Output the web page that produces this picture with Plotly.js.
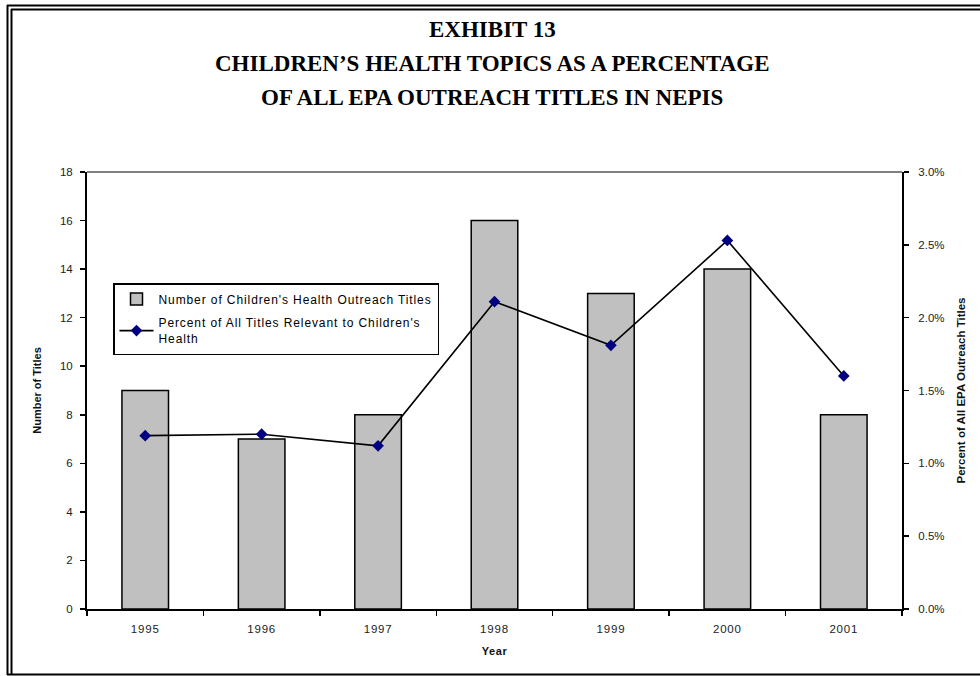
<!DOCTYPE html>
<html>
<head>
<meta charset="utf-8">
<script src="https://cdn.plot.ly/plotly-3.0.1.min.js"></script>
<style>
html,body{margin:0;padding:0;background:#fff;}
#chart{width:980px;height:676px;}
.legendtext{letter-spacing:0.9px;}
#chart .xtick text{letter-spacing:0.8px;}
#chart .g-xtitle text{letter-spacing:0.6px;}
</style>
</head>
<body>
<div id="chart"></div>
<script>
const years = ["1995","1996","1997","1998","1999","2000","2001"];
const titlesCount = [9, 7, 8, 16, 13, 14, 8];
const percentRelevant = [0.0119, 0.0120, 0.0112, 0.0211, 0.0181, 0.0253, 0.0160];
const leftTicks = [0,2,4,6,8,10,12,14,16,18];
const rightTicks = [0,0.005,0.01,0.015,0.02,0.025,0.03];
const titleLines = ["EXHIBIT 13", "CHILDREN\u2019S HEALTH TOPICS AS A PERCENTAGE", "OF ALL EPA OUTREACH TITLES IN NEPIS"];

const W = 980, H = 676;
const M = {l: 87, r: 78, t: 172, b: 67};
const PW = W - M.l - M.r, PH = H - M.t - M.b;
const px = x => (x - M.l) / PW;
const py = y => (H - M.b - y) / PH;

const bars = {
  type: 'bar', x: years, y: titlesCount,
  name: "Number of Children's Health Outreach Titles",
  legendgroup: 'a',
  marker: {color: '#c0c0c0', line: {color: '#000', width: 1.5}},
  yaxis: 'y'
};
const line = {
  type: 'scatter', mode: 'lines+markers', x: years, y: percentRelevant,
  name: "Percent of All Titles Relevant to Children's<br>Health",
  legendgroup: 'b',
  line: {color: '#000', width: 1.6},
  marker: {symbol: 'diamond', color: '#000080', size: 9},
  yaxis: 'y2'
};

const shapes = [
  {type:'line', xref:'paper', yref:'paper', x0:px(7.5), x1:px(7.5), y0:py(5), y1:py(675), line:{color:'#000', width:2}},
  {type:'line', xref:'paper', yref:'paper', x0:px(11.5), x1:px(11.5), y0:py(9), y1:py(675), line:{color:'#000', width:2}},
  {type:'line', xref:'paper', yref:'paper', x0:px(7), x1:px(980), y0:py(5.5), y1:py(5.5), line:{color:'#000', width:2}},
  {type:'line', xref:'paper', yref:'paper', x0:px(11), x1:px(980), y0:py(9.5), y1:py(9.5), line:{color:'#000', width:2}},
  {type:'line', xref:'paper', yref:'paper', x0:px(7), x1:px(980), y0:py(674.5), y1:py(674.5), line:{color:'#000', width:2}},
  {type:'line', xref:'paper', yref:'paper', x0:0, x1:1, y0:1, y1:1, line:{color:'#808080', width:2}}
];

const titleY = [30, 64, 97];
const annotations = titleLines.map((t, i) => ({
  text: '<b>' + t + '</b>', xref:'paper', yref:'paper', x: px(492), y: py(titleY[i]),
  xanchor:'center', yanchor:'middle', showarrow:false,
  font:{family:'"Liberation Serif", "Times New Roman", serif', size:23, color:'#000'}
}));

const tickFont = {family:'"Liberation Sans", Arial, sans-serif', size:11.5, color:'#222'};
const axTitleFont = {family:'"Liberation Sans", Arial, sans-serif', size:11, color:'#111', weight:'bold'};

const layout = {
  width: W, height: H,
  margin: M,
  paper_bgcolor:'#fff', plot_bgcolor:'#fff',
  showlegend: true,
  legend: {
    x: px(113), y: py(283), xanchor:'left', yanchor:'top',
    bgcolor:'#fff', bordercolor:'#000', borderwidth:1.5,
    font:{family:'"Liberation Sans", Arial, sans-serif', size:12, color:'#000'},
    tracegroupgap: 5, itemwidth: 34
  },
  bargap: 0.6,
  xaxis: {
    type:'category', tickson:'boundaries', ticks:'outside', ticklen:5, tickwidth:1.5, tickcolor:'#000',
    showline:true, linecolor:'#000', linewidth:2, showgrid:false, zeroline:false,
    tickfont: tickFont, ticklabelstandoff: 8,
    title:{text:'<b>Year</b>', font: axTitleFont, standoff: 14}
  },
  yaxis: {
    range:[0,18], tickvals: leftTicks, ticks:'outside', ticklen:5, tickwidth:1.5, tickcolor:'#000',
    showline:true, linecolor:'#000', linewidth:2, showgrid:false, zeroline:false,
    tickfont: tickFont, ticklabelstandoff: 5,
    title:{text:'<b>Number of Titles</b>', font: axTitleFont, standoff: 16}
  },
  yaxis2: {
    overlaying:'y', side:'right', range:[0,0.03], tickvals: rightTicks, tickformat:'.1%',
    ticks:'outside', ticklen:5, tickwidth:1.5, tickcolor:'#000',
    showline:true, linecolor:'#000', linewidth:2, showgrid:false, zeroline:false,
    tickfont: tickFont, ticklabelstandoff: 7,
    title:{text:'<b>Percent of All EPA Outreach Titles</b>', font: {family:'"Liberation Sans", Arial, sans-serif', size:11.5, color:'#111', weight:'bold'}, standoff: 13}
  },
  shapes: shapes,
  annotations: annotations
};

Plotly.newPlot('chart', [bars, line], layout, {displayModeBar:false, staticPlot:true});
</script>
</body>
</html>
